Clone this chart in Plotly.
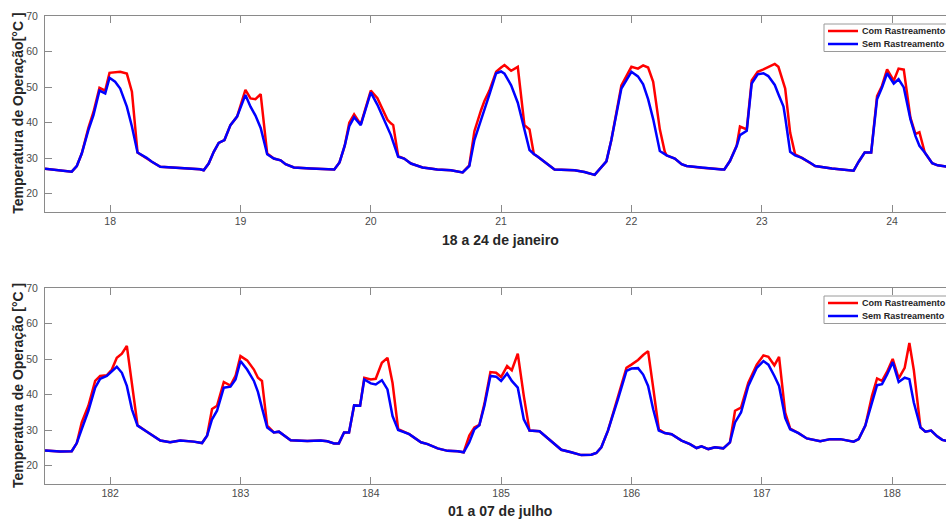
import plotly.graph_objects as go

# ---------------- data: 18 to 24 January ----------------
jan_day = [17.50, 17.62, 17.705, 17.744, 17.782, 17.833, 17.872, 17.918, 17.962, 17.995,
           18.038, 18.077, 18.128, 18.167, 18.21, 18.28, 18.32, 18.385, 18.51, 18.69,
           18.718, 18.756, 18.795, 18.833, 18.877, 18.923, 18.974, 19.038, 19.077, 19.115,
           19.155, 19.205, 19.256, 19.308, 19.346, 19.41, 19.538, 19.69, 19.72, 19.76,
           19.80, 19.835, 19.872, 19.923, 20.0, 20.051, 20.103, 20.128, 20.154, 20.172,
           20.21, 20.256, 20.308, 20.397, 20.46, 20.51, 20.615, 20.705, 20.756, 20.795,
           20.846, 20.872, 20.91, 20.962, 21.0, 21.026, 21.077, 21.128, 21.179, 21.218,
           21.251, 21.282, 21.41, 21.564, 21.64, 21.718, 21.808, 21.846, 21.923, 22.0,
           22.05, 22.09, 22.128, 22.167, 22.218, 22.256, 22.27, 22.333, 22.385, 22.423,
           22.538, 22.69, 22.713, 22.756, 22.808, 22.833, 22.885, 22.923, 22.969, 23.013,
           23.05, 23.1, 23.128, 23.167, 23.18, 23.218, 23.256, 23.308, 23.372, 23.41,
           23.538, 23.705, 23.744, 23.79, 23.84, 23.885, 23.923, 23.962, 24.013, 24.05,
           24.09, 24.141, 24.18, 24.21, 24.251, 24.308, 24.35, 24.43]
jan_sem = [27.0, 26.5, 26.2, 27.8, 31.3, 37.9, 42.1, 49.0, 48.2, 52.6,
           51.5, 49.6, 44.5, 38.9, 31.6, 30.1, 29.0, 27.6, 27.3, 26.9,
           26.6, 28.5, 31.8, 34.3, 35.1, 39.3, 41.7, 47.8, 44.5, 42.0,
           38.5, 31.1, 29.9, 29.4, 28.3, 27.4, 27.1, 26.8, 26.8, 28.8,
           33.5, 39.0, 41.5, 39.3, 48.5, 45.0, 40.8, 38.9, 36.5, 34.5,
           30.4, 29.9, 28.5, 27.4, 27.1, 26.8, 26.6, 26.0, 27.8, 35.1,
           40.8, 43.5, 47.9, 53.9, 54.4, 53.8, 50.5, 45.6, 38.1, 32.3,
           31.2, 30.4, 26.8, 26.6, 26.1, 25.3, 29.1, 35.1, 49.6, 54.3,
           53.0, 50.8, 46.6, 41.0, 32.0, 31.2, 30.8, 29.9, 28.3, 27.8,
           27.3, 26.8, 26.8, 29.2, 33.4, 36.5, 37.7, 51.0, 53.6, 53.9,
           53.1, 50.6, 48.0, 44.5, 41.5, 31.8, 30.8, 30.1, 28.7, 27.8,
           27.1, 26.5, 29.0, 31.6, 31.6, 46.6, 49.9, 53.9, 51.0, 52.2,
           49.9, 41.0, 36.2, 33.5, 31.6, 28.6, 28.0, 27.6]
jan_com = [27.0, 26.5, 26.2, 27.8, 31.3, 38.5, 43.0, 49.8, 49.0, 54.0,
           54.2, 54.3, 53.8, 48.7, 31.6, 30.1, 29.0, 27.6, 27.3, 26.9,
           26.6, 28.5, 31.8, 34.3, 35.1, 39.3, 41.7, 49.2, 46.8, 46.6,
           48.0, 31.3, 29.9, 29.4, 28.3, 27.4, 27.1, 26.8, 26.8, 28.8,
           33.5, 40.0, 42.3, 39.5, 49.0, 46.9, 42.8, 40.8, 39.8, 39.3,
           30.6, 29.9, 28.5, 27.4, 27.1, 26.8, 26.6, 26.0, 28.0, 37.6,
           43.5, 46.1, 49.0, 54.3, 55.5, 56.2, 54.6, 55.7, 39.3, 38.1,
           31.2, 30.4, 26.8, 26.6, 26.1, 25.3, 29.1, 35.1, 50.5, 55.7,
           55.2, 56.1, 55.5, 51.5, 38.1, 31.8, 30.8, 29.9, 28.3, 27.8,
           27.3, 26.8, 26.8, 29.2, 33.6, 38.9, 38.1, 51.9, 54.3, 55.0,
           55.6, 56.5, 55.7, 51.0, 49.6, 37.2, 31.1, 30.1, 28.7, 27.8,
           27.1, 26.5, 29.0, 31.6, 31.6, 47.5, 50.4, 55.0, 51.8, 55.2,
           54.9, 41.4, 36.8, 37.3, 31.6, 28.6, 28.0, 27.6]

# ---------------- data: 01 to 07 July (day of year) ----------------
jul_day = [181.5, 181.615, 181.705, 181.744, 181.782, 181.833, 181.885, 181.923, 181.974, 182.013,
           182.051, 182.09, 182.128, 182.167, 182.21, 182.282, 182.385, 182.46, 182.538, 182.641,
           182.705, 182.744, 182.782, 182.82, 182.872, 182.923, 182.962, 183.0, 183.051, 183.103,
           183.134, 183.165, 183.205, 183.256, 183.295, 183.385, 183.513, 183.615, 183.667, 183.718,
           183.755, 183.795, 183.833, 183.872, 183.918, 183.95, 184.0, 184.038, 184.085, 184.128,
           184.167, 184.21, 184.295, 184.385, 184.436, 184.513, 184.59, 184.667, 184.713, 184.756,
           184.795, 184.833, 184.872, 184.918, 184.962, 185.0, 185.046, 185.082, 185.128, 185.174,
           185.218, 185.295, 185.385, 185.462, 185.538, 185.615, 185.692, 185.731, 185.769, 185.82,
           185.897, 185.962, 186.0, 186.051, 186.09, 186.128, 186.167, 186.21, 186.256, 186.308,
           186.385, 186.449, 186.5, 186.538, 186.59, 186.641, 186.705, 186.756, 186.795, 186.841,
           186.897, 186.962, 187.013, 187.051, 187.097, 187.133, 187.18, 187.218, 187.282, 187.346,
           187.449, 187.526, 187.603, 187.705, 187.744, 187.795, 187.846, 187.885, 187.923, 187.962,
           188.005, 188.051, 188.097, 188.133, 188.167, 188.218, 188.256, 188.3, 188.346, 188.385,
           188.431]
jul_sem = [24.3, 24.0, 24.1, 26.4, 30.3, 35.5, 42.0, 44.5, 45.3, 46.7,
           47.9, 46.2, 42.5, 35.9, 31.3, 29.6, 27.1, 26.6, 27.1, 26.8,
           26.4, 28.5, 33.1, 35.5, 42.0, 42.3, 44.3, 49.5, 47.1, 43.9,
           40.8, 36.3, 30.8, 29.4, 29.6, 27.2, 27.0, 27.1, 26.9, 26.3,
           26.3, 29.4, 29.4, 37.0, 36.9, 44.3, 43.2, 42.9, 44.1, 41.5,
           34.0, 30.1, 28.9, 26.6, 26.1, 24.9, 24.2, 24.1, 23.8, 26.6,
           30.3, 31.4, 36.9, 45.3, 45.1, 43.9, 46.0, 43.9, 42.0, 33.1,
           29.9, 29.7, 26.8, 24.5, 23.8, 23.0, 23.1, 23.6, 25.2, 29.9,
           38.8, 46.7, 47.4, 47.5, 45.7, 42.5, 35.9, 29.9, 29.2, 28.9,
           27.1, 26.1, 25.0, 25.5, 24.7, 25.2, 24.9, 26.6, 32.2, 35.0,
           42.5, 47.6, 49.5, 48.5, 45.3, 42.5, 33.5, 30.3, 29.2, 27.7,
           26.9, 27.5, 27.5, 26.8, 27.5, 31.3, 37.8, 42.7, 43.0, 45.7,
           49.2, 43.6, 44.8, 44.4, 37.8, 30.8, 29.6, 29.9, 28.3, 27.3,
           26.9]
jul_com = [24.3, 24.0, 24.1, 26.4, 32.2, 36.9, 43.9, 45.3, 45.5, 47.1,
           50.4, 51.6, 53.8, 43.0, 31.4, 29.6, 27.1, 26.6, 27.1, 26.8,
           26.4, 28.5, 36.0, 36.9, 43.6, 42.6, 45.3, 50.9, 49.7, 47.1,
           44.8, 43.9, 31.3, 29.4, 29.6, 27.2, 27.0, 27.1, 26.9, 26.3,
           26.3, 29.4, 29.4, 37.0, 36.9, 44.8, 44.3, 44.5, 49.0, 50.4,
           43.3, 30.3, 28.9, 26.6, 26.1, 24.9, 24.2, 24.1, 23.8, 28.5,
           30.8, 31.5, 37.5, 46.4, 46.2, 45.0, 48.1, 46.9, 51.6, 39.7,
           29.9, 29.7, 26.8, 24.5, 23.8, 23.0, 23.1, 23.6, 25.2, 29.9,
           39.5, 47.6, 48.5, 49.8, 51.2, 52.3, 42.0, 30.3, 29.2, 28.9,
           27.1, 26.1, 25.0, 25.5, 24.7, 25.2, 24.9, 26.6, 35.5, 36.4,
           43.4, 48.5, 51.1, 50.7, 48.3, 50.7, 35.0, 30.5, 29.2, 27.7,
           26.9, 27.5, 27.5, 26.8, 27.5, 31.3, 39.7, 44.6, 43.9, 46.5,
           50.1, 44.6, 47.6, 54.6, 47.0, 30.8, 29.6, 29.9, 28.3, 27.3,
           26.9]

jan_ticks = [18, 19, 20, 21, 22, 23, 24]
jul_ticks = [182, 183, 184, 185, 186, 187, 188]
y_ticks = [20, 30, 40, 50, 60, 70]

series_names = ["Com Rastreamento", "Sem Rastreamento"]
panel_titles = ["18 a 24 de janeiro", "01 a 07 de julho"]
y_titles = ["Temperatura de Operação[°C ]", "Temperatura de Operação [°C ]"]

RED = "#ff0000"
BLUE = "#0000ff"
AXIS = "#8a8a8a"
TICKTXT = "#4a4a4a"
FONT = "Liberation Sans, Arial, sans-serif"

W, H = 946, 519


def px_x(p):
    return p / W


def px_y(p):
    return 1 - p / H


fig = go.Figure()

panels = [
    (jan_day, jan_com, jan_sem, "x", "y"),
    (jul_day, jul_com, jul_sem, "x2", "y2"),
]
for day, com, sem, xa, ya in panels:
    fig.add_trace(go.Scatter(x=day, y=com, mode="lines", name=series_names[0],
                             line=dict(color=RED, width=2.5), xaxis=xa, yaxis=ya,
                             showlegend=False))
    fig.add_trace(go.Scatter(x=day, y=sem, mode="lines", name=series_names[1],
                             line=dict(color=BLUE, width=2.5), xaxis=xa, yaxis=ya,
                             showlegend=False))

x_dom = [px_x(45), 1.0]
top_dom = [px_y(211.5), px_y(16)]
bot_dom = [px_y(483.5), px_y(288.3)]

common_x = dict(showline=True, linecolor=AXIS, linewidth=1, mirror="ticks",
                ticks="inside", ticklen=7, tickcolor=AXIS, tickwidth=1,
                showgrid=False, zeroline=False,
                tickfont=dict(family=FONT, size=10.5, color=TICKTXT))
common_y = dict(showline=True, linecolor=AXIS, linewidth=1, mirror=False,
                ticks="inside", ticklen=7, tickcolor=AXIS, tickwidth=1,
                showgrid=False, zeroline=False, range=[15, 70],
                tickvals=y_ticks, ticklabelstandoff=4,
                tickfont=dict(family=FONT, size=10.5, color=TICKTXT))

fig.update_layout(
    width=W, height=H,
    margin=dict(l=0, r=0, t=0, b=0, autoexpand=False),
    paper_bgcolor="white", plot_bgcolor="white",
    showlegend=False,
    xaxis=dict(domain=x_dom, anchor="y", range=[17.5, 24.414], tickvals=jan_ticks, **common_x),
    yaxis=dict(domain=top_dom, anchor="x", **common_y),
    xaxis2=dict(domain=x_dom, anchor="y2", range=[181.5, 188.414], tickvals=jul_ticks, **common_x),
    yaxis2=dict(domain=bot_dom, anchor="x2", **common_y),
)

annotations = []
shapes = []
label_font = dict(family=FONT, size=14, color="#262626", weight="bold")
for i, (yc_title, yc_axis, y_top) in enumerate([(240, 113.8, 24), (511, 386, 296)]):
    annotations.append(dict(text=panel_titles[i], x=px_x(500), y=px_y(yc_title),
                            xref="paper", yref="paper", showarrow=False,
                            xanchor="center", yanchor="middle", font=label_font))
    annotations.append(dict(text=y_titles[i], x=px_x(18), y=px_y(yc_axis),
                            xref="paper", yref="paper", showarrow=False, textangle=-90,
                            xanchor="center", yanchor="middle", font=label_font))
    # legend box in the upper right corner of each panel
    box_l, box_t, box_b = 824, y_top, y_top + 27.5
    shapes.append(dict(type="rect", xref="paper", yref="paper",
                       x0=px_x(box_l), x1=px_x(W + 20), y0=px_y(box_b), y1=px_y(box_t),
                       line=dict(color="#9a9a9a", width=1), fillcolor="white", layer="above"))
    for j, col in enumerate([RED, BLUE]):
        yr = box_t + 7 + j * 13
        shapes.append(dict(type="line", xref="paper", yref="paper",
                           x0=px_x(828), x1=px_x(858), y0=px_y(yr), y1=px_y(yr),
                           line=dict(color=col, width=2.5), layer="above"))
        annotations.append(dict(text=series_names[j], x=px_x(860), y=px_y(yr),
                                xref="paper", yref="paper", showarrow=False,
                                xanchor="left", yanchor="middle",
                                font=dict(family=FONT, size=9.1, color="#262626", weight="bold")))

fig.update_layout(annotations=annotations, shapes=shapes)

fig.write_html("out.html")
